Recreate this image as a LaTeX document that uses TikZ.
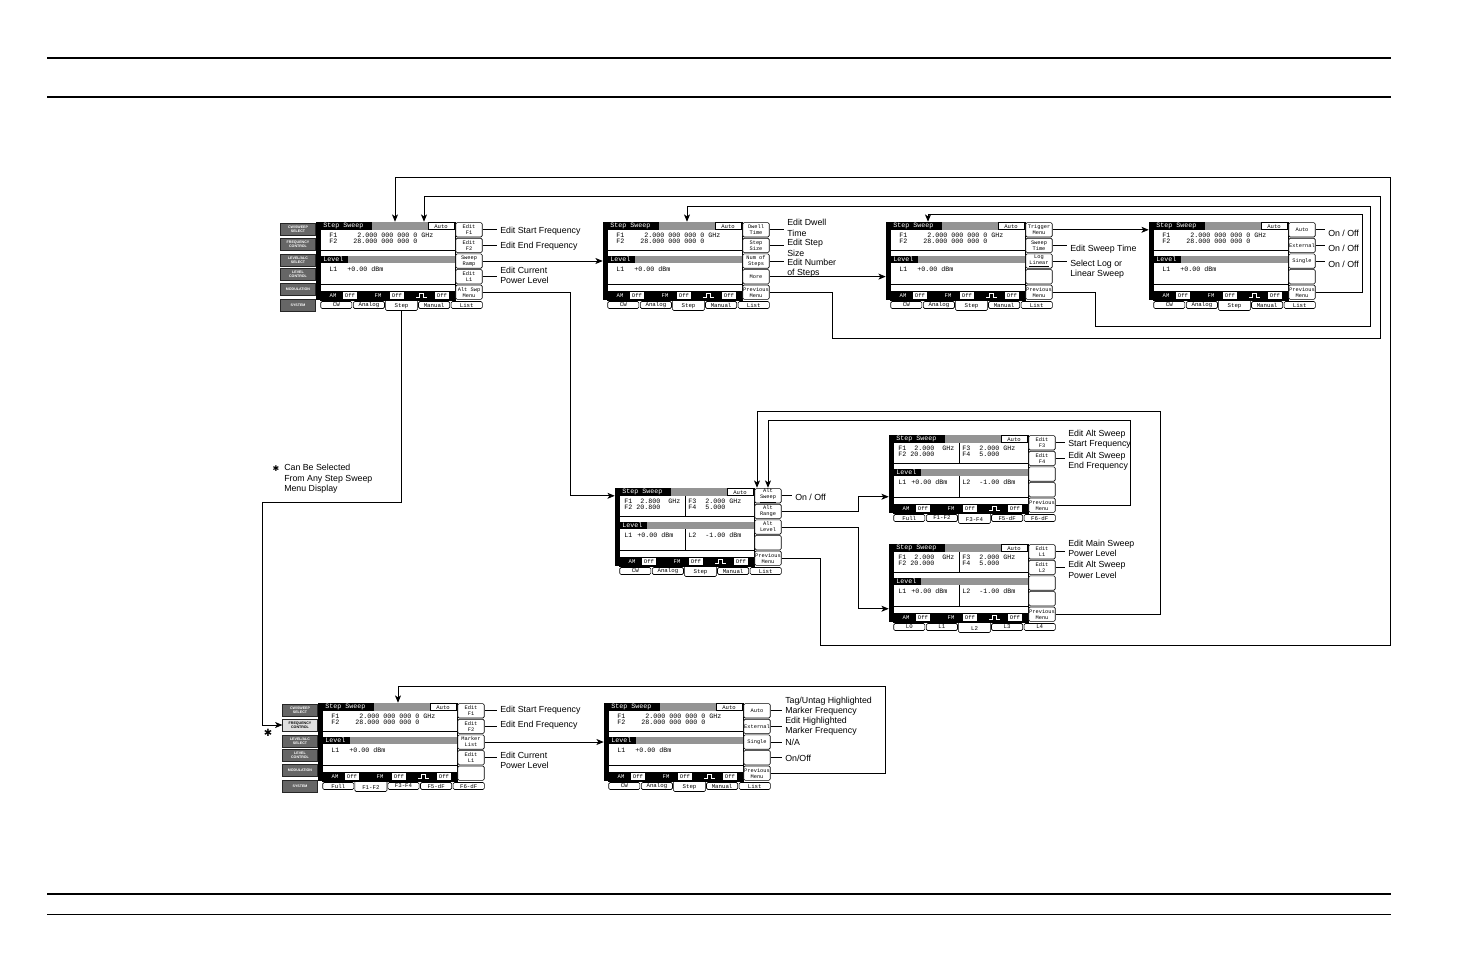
\documentclass[tikz,border=0pt]{standalone}
\usepackage{fontspec}
\setmainfont{Liberation Sans}
\newfontfamily\mono{Liberation Mono}
\newfontfamily\djv{DejaVu Sans}
\usetikzlibrary{arrows.meta,calc}

\tikzset{
  lab/.style={anchor=west, font=\fontsize{6.6}{7.8}\selectfont, align=left, inner sep=0pt},
  conn/.style={line width=0.55pt, shorten >=2pt},
  arr/.style={line width=0.6pt, -{Stealth[length=5.5pt,width=4.5pt,inset=1.5pt]}},
  skey/.style={draw, rounded corners=1pt, line width=0.45pt, minimum width=19.8pt, minimum height=10.8pt, inner sep=0pt, font=\mono\fontsize{4}{4.5}\selectfont, align=center, fill=white},
  tabk/.style={draw, rounded corners=1pt, line width=0.45pt, minimum width=23.4pt, minimum height=5.2pt, inner sep=0pt, font=\mono\fontsize{4.3}{4.5}\selectfont, fill=white},
  tabsel/.style={inner sep=0pt, minimum height=6pt, minimum width=23pt, font=\mono\fontsize{4.3}{4.5}\selectfont},
  st/.style={font=\mono\fontsize{5}{5}\selectfont, inner sep=0pt, anchor=west},
  sts/.style={font=\mono\fontsize{4.2}{4.2}\selectfont, inner sep=0pt},
  offb/.style={fill=white, inner sep=0pt, minimum width=10pt, minimum height=4.8pt, font=\mono\fontsize{4.2}{4.2}\selectfont},
  sbtn/.style={draw=black!85, line width=0.4pt, fill=black!60, text=white, minimum width=26pt, minimum height=9pt, inner sep=0pt, font=\fontsize{2.7}{3}\selectfont\bfseries, align=center},
  sbtnhi/.style={sbtn, fill=black!12, text=black},
  dith/.style={fill=black!42},
  thin/.style={line width=0.4pt},
}

% #1 prefix, #2 x, #3 y, #4-#8 softkeys, #9 content
\newcommand\scrn[9]{%
 \begin{scope}[shift={(#2,#3)}]
  \def\curp{#1}%
  \node[fill=black, inner sep=0pt, minimum width=3pt, minimum height=58.5pt] (#1-bar) at (2,39) {};
  \draw[line width=0.45pt] (4,0) rectangle (139,78);
  \fill (4,0) rectangle (56,8);
  \fill[dith] (56,0) rectangle (112,8);
  \draw[thin, fill=white] (112,0.6) rectangle (138.4,7.6);
  \node[st, text=white] at (7,4.2) {Step Sweep};
  \node[sts] at (125,4.2) {Auto};
  \draw[thin] (4,28) -- (139,28);
  \draw[thin] (4,34) -- (139,34);
  \fill (4,34) rectangle (32,41);
  \fill[dith] (32,34) rectangle (139,41);
  \node[st, text=white] at (7,37.6) {Level};
  \draw[thin] (4,62) -- (139,62);
  \fill (4,69) rectangle (139,78);
  \node[sts, text=white] at (17,73.5) {AM};
  \node[offb] at (34,73.5) {Off};
  \node[sts, text=white] at (62,73.5) {FM};
  \node[offb] at (81,73.5) {Off};
  \draw[white, line width=0.45pt] (100,75.5) -- (103,75.5) -- (103,71.3) -- (107,71.3) -- (107,75.5) -- (111,75.5);
  \node[offb] at (126,73.5) {Off};
  \node[skey] (#1-1) at (153,7.8) {#4};
  \node[skey] (#1-2) at (153,23.4) {#5};
  \node[skey] (#1-3) at (153,39) {#6};
  \node[skey] (#1-4) at (153,54.6) {#7};
  \node[skey] (#1-5) at (153,70.2) {#8};
  #9
 \end{scope}}

\newcommand\tabs[6]{%
  \foreach \t [count=\i] in {#1,#2,#3,#4,#5}{%
    \pgfmathsetmacro\cx{4+32.6*(\i-0.5)}%
    \ifnum\i=#6\relax
      \draw[line width=0.45pt, rounded corners=1pt, fill=white] (\cx-16.1,79) -- (\cx-16.1,88.5) -- (\cx+16.1,88.5) -- (\cx+16.1,79);
      \node[tabsel] (\curp-t\i) at (\cx,84.5) {\t};
    \else
      \node[tabk] (\curp-t\i) at (\cx,83) {\t};
    \fi}}

\newcommand\single[3]{%
  \node[st] at (13,13) {F1}; \node[st] at (41,13) {#1};
  \node[st] at (13,19.5) {F2}; \node[st] at (37,19.5) {#2};
  \node[st] at (13,47) {L1}; \node[st] at (31,47) {#3};}

\newcommand\dual[4]{%
  \draw[thin] (70,8) -- (70,28);
  \draw[thin] (70,41) -- (70,62);
  \node[st] at (9,13) {F1}; \node[st] at (25,13) {#1};
  \node[st] at (9,19.5) {F2}; \node[st] at (21,19.5) {#2};
  \node[st] at (73,13) {F3}; \node[st] at (90,13) {#3};
  \node[st] at (73,19.5) {F4}; \node[st] at (90,19.5) {#4};
  \node[st] at (9,47) {L1}; \node[st] at (22,47) {+0.00 dBm};
  \node[st] at (73,47) {L2}; \node[st] at (90,47) {-1.00 dBm};}

\newcommand\sidepanel[1]{%
  \node[sbtn] (\curp-p1) at (-18,7.5) {CW/SWEEP\\SELECT};
  \node[#1] (\curp-p2) at (-18,22) {FREQUENCY\\CONTROL};
  \node[sbtn] (\curp-p3) at (-18,38) {LEVEL/ALC\\SELECT};
  \node[sbtn] (\curp-p4) at (-18,52) {LEVEL\\CONTROL};
  \node[sbtn] (\curp-p5) at (-18,67) {MODULATION};
  \node[sbtn] (\curp-p6) at (-18,83) {SYSTEM};}

\begin{document}
\begin{tikzpicture}[x=0.75pt,y=-0.75pt]
\useasboundingbox (0,0) rectangle (1475,954);
\fill[white] (0,0) rectangle (1475,954);
\draw[line width=0.8pt] (47,58) -- (1391,58);
\draw[line width=0.8pt] (47,97) -- (1391,97);
\draw[line width=1.1pt] (47,894) -- (1391,894);
\draw[line width=0.7pt] (47,914) -- (1391,914);

% ---------- screens ----------
\scrn{s1}{316}{222}{Edit\\F1}{Edit\\F2}{Sweep\\Ramp}{Edit\\L1}{Alt Swp\\Menu}{%
  \single{2.000 000 000 0 GHz}{28.000 000 000 0}{+0.00 dBm}%
  \tabs{CW}{Analog}{Step}{Manual}{List}{3}\sidepanel{sbtn}}
\scrn{s2}{603}{222}{Dwell\\Time}{Step\\Size}{Num of\\Steps}{More}{Previous\\Menu}{%
  \single{2.000 000 000 0 GHz}{28.000 000 000 0}{+0.00 dBm}%
  \tabs{CW}{Analog}{Step}{Manual}{List}{3}}
\scrn{s3}{886}{222}{Trigger\\Menu}{Sweep\\Time}{Log\\\underline{Linear}}{}{Previous\\Menu}{%
  \single{2.000 000 000 0 GHz}{28.000 000 000 0}{+0.00 dBm}%
  \tabs{CW}{Analog}{Step}{Manual}{List}{3}}
\scrn{s4}{1149}{222}{Auto}{External}{Single}{}{Previous\\Menu}{%
  \single{2.000 000 000 0 GHz}{28.000 000 000 0}{+0.00 dBm}%
  \tabs{CW}{Analog}{Step}{Manual}{List}{3}}
\scrn{s5}{615}{488}{Alt\\\underline{Sweep}}{Alt\\Range}{Alt\\Level}{}{Previous\\Menu}{%
  \dual{2.800~~GHz}{20.800}{2.000 GHz}{5.000}%
  \tabs{CW}{Analog}{Step}{Manual}{List}{3}}
\scrn{s6}{889}{435}{Edit\\F3}{Edit\\F4}{}{}{Previous\\Menu}{%
  \dual{2.000~~GHz}{20.000}{2.000 GHz}{5.000}%
  \tabs{Full}{F1-F2}{F3-F4}{F5-dF}{F6-dF}{3}}
\scrn{s7}{889}{544}{Edit\\L1}{Edit\\L2}{}{}{Previous\\Menu}{%
  \dual{2.000~~GHz}{20.000}{2.000 GHz}{5.000}%
  \tabs{L0}{L1}{L2}{L3}{L4}{3}}
\scrn{s8}{318}{703}{Edit\\F1}{Edit\\F2}{Marker\\List}{Edit\\L1}{}{%
  \single{2.000 000 000 0 GHz}{28.000 000 000 0}{+0.00 dBm}%
  \tabs{Full}{F1-F2}{F3-F4}{F5-dF}{F6-dF}{2}\sidepanel{sbtnhi}}
\scrn{s9}{604}{703}{Auto}{External}{Single}{}{Previous\\Menu}{%
  \single{2.000 000 000 0 GHz}{28.000 000 000 0}{+0.00 dBm}%
  \tabs{CW}{Analog}{Step}{Manual}{List}{3}}

% ---------- labels ----------
\node[lab] (a1) at (500,231) {Edit Start Frequency};
\node[lab] (a2) at (500,246) {Edit End Frequency};
\node[lab] (a4) at (500,275.5) {Edit Current\\Power Level};
\node[lab] (b1) at (787,228) {Edit Dwell\\Time};
\node[lab] (b2) at (787,248) {Edit Step\\Size};
\node[lab] (b3) at (787,268.5) {Edit Number\\of Steps};
\node[lab] (c2) at (1070,249) {Edit Sweep Time};
\node[lab] (c3) at (1070,269) {Select Log or\\Linear Sweep};
\node[lab] (d1) at (1328,233) {On / Off};
\node[lab] (d2) at (1328,248) {On / Off};
\node[lab] (d3) at (1328,264) {On / Off};
\node[lab] (e1) at (795,497) {On / Off};
\node[lab] (f1) at (1068,439.5) {Edit Alt Sweep\\Start Frequency};
\node[lab] (f2) at (1068,461) {Edit Alt Sweep\\End Frequency};
\node[lab] (g1) at (1068,548.5) {Edit Main Sweep\\Power Level};
\node[lab] (g2) at (1068,570) {Edit Alt Sweep\\Power Level};
\node[lab] (h1) at (500,710) {Edit Start Frequency};
\node[lab] (h2) at (500,725) {Edit End Frequency};
\node[lab] (h4) at (500,760.5) {Edit Current\\Power Level};
\node[lab] (i1) at (785,706) {Tag/Untag Highlighted\\Marker Frequency};
\node[lab] (i2) at (785,726.5) {Edit Highlighted\\Marker Frequency};
\node[lab] (i3) at (785,742) {N/A};
\node[lab] (i4) at (785,758) {On/Off};
\node[lab] (note) at (284,479) {Can Be Selected\\From Any Step Sweep\\Menu Display};
\node[font=\djv\fontsize{6}{6}\selectfont, inner sep=0pt] (star1) at (276,469) {✱};
\node[font=\djv\fontsize{7.5}{7.5}\selectfont, inner sep=0pt] (star2) at (268,733) {✱};

% label lines
\draw[conn] (s1-1.east) -- (s1-1.east -| a1.west);
\draw[conn] (s1-2.east) -- (s1-2.east -| a2.west);
\draw[conn] (s1-4.east) -- (s1-4.east -| a4.west);
\draw[conn] (s2-1.east) -- (s2-1.east -| b1.west);
\draw[conn] (s2-2.east) -- (s2-2.east -| b2.west);
\draw[conn] (s2-3.east) -- (s2-3.east -| b3.west);
\draw[conn] (s3-2.east) -- (s3-2.east -| c2.west);
\draw[conn] (s3-3.east) -- (s3-3.east -| c3.west);
\draw[conn] (s4-1.east) -- (s4-1.east -| d1.west);
\draw[conn] (s4-2.east) -- (s4-2.east -| d2.west);
\draw[conn] (s4-3.east) -- (s4-3.east -| d3.west);
\draw[conn] (s5-1.east) -- (s5-1.east -| e1.west);
\draw[conn] (s6-1.east) -- (s6-1.east -| f1.west);
\draw[conn] (s6-2.east) -- (s6-2.east -| f2.west);
\draw[conn] (s7-1.east) -- (s7-1.east -| g1.west);
\draw[conn] (s7-2.east) -- (s7-2.east -| g2.west);
\draw[conn] (s8-1.east) -- (s8-1.east -| h1.west);
\draw[conn] (s8-2.east) -- (s8-2.east -| h2.west);
\draw[conn] (s8-4.east) -- (s8-4.east -| h4.west);
\draw[conn] (s9-1.east) -- (s9-1.east -| i1.west);
\draw[conn] (s9-2.east) -- (s9-2.east -| i2.west);
\draw[conn] (s9-3.east) -- (s9-3.east -| i3.west);
\draw[conn] (s9-4.east) -- (s9-4.east -| i4.west);

% ---------- forward arrows ----------
\draw[arr] (s1-3.east) -- (s1-3.east -| s2-bar.west);
\draw[arr] (s2-4.east) -- (s2-4.east -| s3-bar.west);
\draw[arr] (s3-1.east) -- (s3-1.east -| s4-bar.west);
\draw[arr] (s8-3.east) -- (s8-3.east -| s9-bar.west);
\coordinate (j1) at (570,400);
\draw[arr] (s1-5.east) -- (s1-5.east -| j1) |- (s5-bar.west |- s5-1.west);
\coordinate (j2) at (858,500);
\coordinate (s6in) at ($(s6-bar.north west)+(0,62)$);
\coordinate (s7in) at ($(s7-bar.north west)+(0,65)$);
\draw[arr] (s5-2.east) -- (s5-2.east -| j2) |- (s6in);
\draw[arr] (s5-3.east) -- (s5-3.east -| j2) |- (s7in);
\coordinate (j3) at (262,502);
\draw[arr] (s1-t3.south) |- (j3) |- (s8-p2.west);

% ---------- return loops ----------
\coordinate (t1) at (395,177);
\coordinate (t2) at (424,196);
\coordinate (t3) at (687,206);
\coordinate (t4) at (928,214);
\coordinate (t5) at (768,420);
\coordinate (t6) at (757,411);
\coordinate (t7) at (398,686);
\draw[arr] (s5-5.east) -| (820,645) -- (1390,645) |- (t1) -- (t1 |- s1-bar.north);
\draw[arr] (s2-5.east) -| (832,338) -- (1380,338) |- (t2) -- (t2 |- s1-bar.north);
\draw[arr] (s3-5.east) -| (1095,326) -- (1370,326) |- (t3) -- (t3 |- s2-bar.north);
\draw[arr] (s4-5.east) -| (1362,214) -- (t4) -- (t4 |- s3-bar.north);
\draw[arr] (s6-5.east) -| (1130,420) -- (t5) -- (t5 |- s5-bar.north);
\draw[arr] (s7-5.east) -| (1160,411) -- (t6) -- (t6 |- s5-bar.north);
\draw[arr] (s9-5.east) -| (885,686) -- (t7) -- (t7 |- s8-bar.north);
\end{tikzpicture}
\end{document}
